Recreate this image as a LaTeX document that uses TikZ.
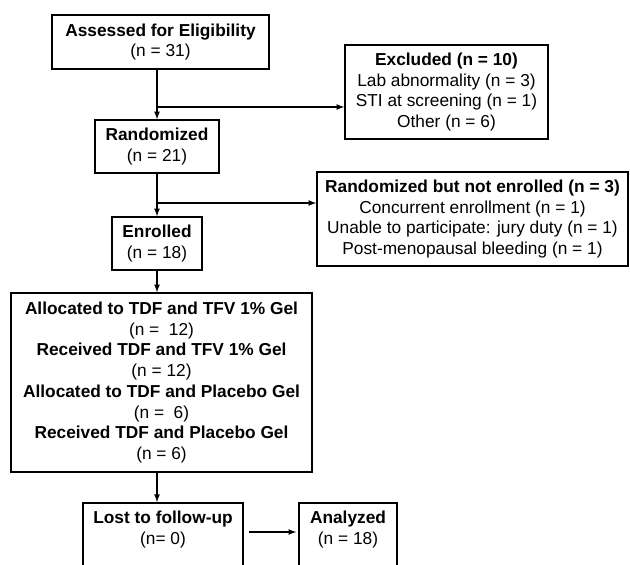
\documentclass[tikz,border=0pt]{standalone}
\usepackage{fontspec}
\setmainfont{Liberation Sans}
\begin{document}
\begin{tikzpicture}[x=1pt,y=-1pt,
  box/.style={draw, line width=1.6pt, inner sep=0pt, align=center,
    font=\fontsize{17.3}{20.7}\selectfont},
  openbox/.style={box, anchor=north, inner ysep=8pt, text depth=80pt},
  arr/.style={line width=1.6pt, -latex}]
\clip (0,0) rectangle (630,565);
\node[box, minimum width=217pt, minimum height=54pt] at (160.5,42) (assess) {\textbf{Assessed for Eligibility}\\(n = 31)};
\node[box, minimum width=203pt, minimum height=94pt] at (446.5,92) (excl) {\textbf{Excluded (n = 10)}\\Lab abnormality (n = 3)\\STI at screening (n = 1)\\Other (n = 6)};
\node[box, minimum width=124pt, minimum height=53pt] at (157,146.5) (rand) {\textbf{Randomized}\\(n = 21)};
\node[box, minimum width=311pt, minimum height=94pt] at (472.5,219) (notenr) {\textbf{Randomized but not enrolled (n = 3)}\\Concurrent enrollment (n = 1)\\Unable to participate: jury duty (n = 1)\\Post-menopausal bleeding (n = 1)};
\node[box, minimum width=90pt, minimum height=53pt] at (157,243.5) (enr) {\textbf{Enrolled}\\(n = 18)};
\node[box, minimum width=301pt, minimum height=179pt] at (161.5,382.5) (alloc) {\textbf{Allocated to TDF and TFV 1\% Gel}\\(n =\ \ 12)\\\textbf{Received TDF and TFV 1\% Gel}\\(n = 12)\\\textbf{Allocated to TDF and Placebo Gel}\\(n =\ \ 6)\\\textbf{Received TDF and Placebo Gel}\\(n = 6)};
\node[openbox, minimum width=160pt] at (163,502) (lost) {\textbf{Lost to follow-up}\\(n= 0)};
\node[openbox, minimum width=98pt] at (348,502) (anal) {\textbf{Analyzed}\\(n = 18)};
\coordinate (br1) at (157,107);
\coordinate (br2) at (157,203);
\draw[arr] (assess.south -| rand.north) -- (rand.north);
\draw[arr] (br1) -- (br1 -| excl.west);
\draw[arr] (rand.south) -- (enr.north);
\draw[arr] (br2) -- (br2 -| notenr.west);
\draw[arr] (enr.south) -- (enr.south |- alloc.north);
\draw[arr] (alloc.south -| enr.south) -- (lost.north -| enr.south);
\draw[arr, shorten <=5pt, shorten >=2pt] ([yshift=-30pt]lost.north east) -- ([yshift=-30pt]anal.north west);
\end{tikzpicture}
\end{document}
